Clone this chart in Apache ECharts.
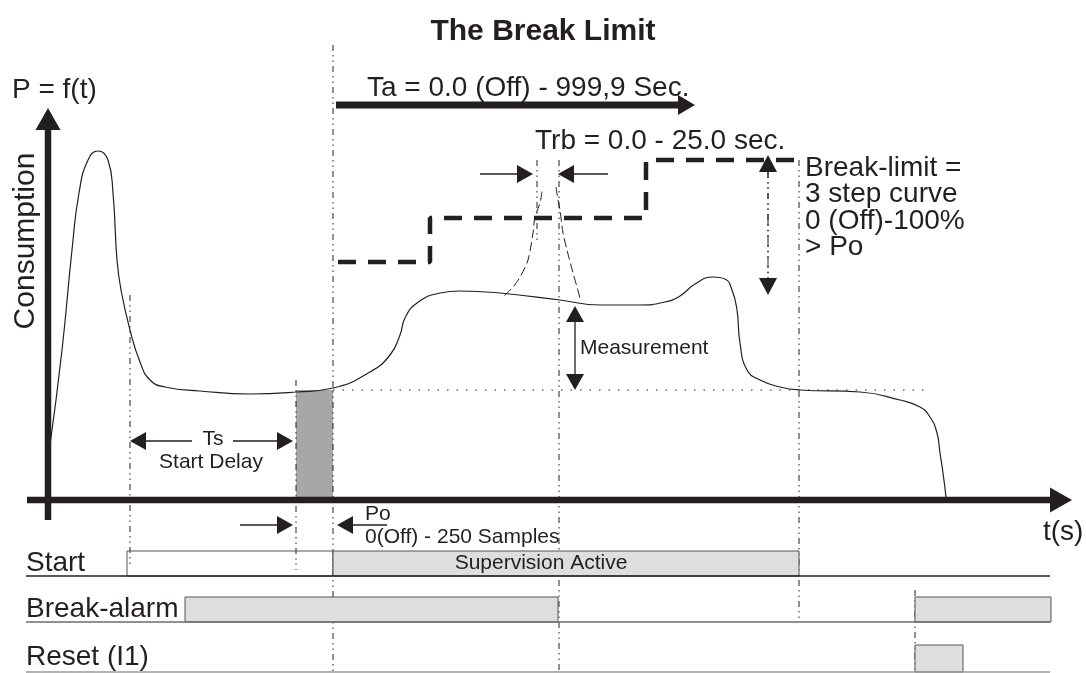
<!DOCTYPE html>
<html>
<head>
<meta charset="utf-8">
<title>The Break Limit</title>
<script src="https://cdn.jsdelivr.net/npm/echarts@6/dist/echarts.min.js"></script>
<style>
  html, body { margin: 0; padding: 0; background: #fff; }
  #chart { width: 1086px; height: 673px; }
</style>
</head>
<body>
<div id="chart"></div>
<script>
// consumption curve P = f(t)
const curveT = [0.2, 1.4, 2.4, 3.1, 4.0, 5.0, 6.0, 6.5, 6.9, 7.3, 8.2, 9.2, 10.2, 11.7, 15.2, 20.2, 24.9, 28.5,
  32.2, 34.2, 35.2, 35.7, 36.9, 39.2, 41.2, 45.2, 51.2, 55.2, 59.2, 61.7, 63.2, 64.7, 66.5, 67.7, 68.4, 68.9, 69.2, 69.9,
  71.2, 73.2, 75.2, 81.2, 85.2, 87.2, 88.2, 88.9, 89.2, 89.5, 89.8];
const curveP = [13.75, 37.5, 62.5, 76.75, 85, 87.25, 85, 76.75, 60, 52.5, 42.5, 34.5, 30, 28.25, 27.25, 26.5, 27, 28,
  32, 36.25, 41.25, 45.5, 49.25, 51.75, 52.25, 51.75, 50, 48.75, 48.75, 49.5, 51, 54, 55.75, 55.25, 52.5, 47.5, 39.25, 32.5,
  30, 28.25, 27.5, 27, 25, 23.25, 20.75, 16.75, 11.75, 6.75, 0.75];

// break-limit, 3 step curve
const limitT = [29, 38.2, 38.2, 59.8, 59.8, 75.2];
const limitP = [59.5, 59.5, 70.5, 70.5, 85, 85];

// Trb peak (thin dashed)
const spikeLeftT = [49.4, 49.2, 48.7, 48.5, 48.0, 47.2, 46.5, 45.5];
const spikeLeftP = [77.1, 74.25, 70.75, 66.75, 60, 55.75, 53.25, 50.75];
const spikeRightT = [50.8, 51.0, 51.2, 51.5, 51.9, 52.5, 52.9, 53.2];
const spikeRightP = [78.25, 75, 72.5, 66.75, 62.5, 56.75, 53.25, 50.5];

// guide lines [t1, P1, t2, P2]
const guidesV = [
  [8.2, 51.25, 8.2, -16.25],
  [24.8, 30, 24.8, -17.5],
  [28.5, 113.75, 28.5, -43.25],
  [48.9, 85, 48.9, 65],
  [51.1, 85, 51.1, -43.25],
  [75.1, 85, 75.1, -30],
  [86.7, -22.5, 86.7, -43.25],
  [72, 82, 72, 55.5]
];
const guidesH = [[28.5, 27.5, 88.2, 27.5]];

// Po sample window [t1, t2, P1, P2]
const poWindow = [[24.8, 28.5, 0, 27.5]];

// axes and Ta arrow [from t, from P, tip t, tip P]
const axisArrows = [[0, -5, 0, 98], [-2.1, 0, 102.4, 0]];
const taArrow = [[28.8, 98.75, 64.7, 98.75]];
// thin arrows
const thinArrows = [
  [43.2, 81.5, 48.5, 81.5], [56, 81.5, 51, 81.5],
  [14.4, 14.75, 8.2, 14.75], [18.5, 14.75, 24.5, 14.75],
  [19.2, -6.25, 24.5, -6.25], [33.9, -6.25, 28.9, -6.25],
  [52.7, 38, 52.7, 48.5], [52.7, 38, 52.7, 27.5]
];
const limitArrows = [[72, 70, 72, 86.25], [72, 70, 72, 51.25]];

// timing rows
const rowNames = ['Start', 'Break-alarm', 'Reset (I1)'];
const rowTop = [-12.75, -24.25, -36.25];
const rowBase = [-19, -30.5, -43];
const barFrom = [7.9, 28.5, 13.7, 86.7, 86.7];
const barTo = [28.5, 75.1, 51.0, 100.3, 91.5];
const barRow = [0, 0, 1, 1, 2];
const barOn = [0, 1, 1, 1, 1];

// texts
const bigTexts = ['P = f(t)', 't(s)', 'Ta = 0.0 (Off) - 999,9 Sec.', 'Trb = 0.0 - 25.0 sec.',
  'Break-limit =', '3 step curve', '0 (Off)-100%', '> Po'].concat(rowNames);
const bigTextAt = [[-3.6, 102.5], [99.5, -8], [31.9, 103], [48.7, 89.75],
  [75.7, 83], [75.7, 76.5], [75.7, 69.75], [75.7, 63.25],
  [-2.2, -15.75], [-2.2, -27.25], [-2.2, -39.25]];
const smallTexts = ['Measurement', 'Po', '0(Off) - 250 Samples'];
const smallTextAt = [[53.2, 38], [31.7, -3.5], [31.7, -9.25]];
const centerTexts = ['Ts', 'Start Delay', 'Supervision Active'];
const centerTextAt = [[16.5, 15.25], [16.3, 9.5], [49.3, -15.75]];

const INK = '#231f20';
const FONT = "'Liberation Sans', Arial, sans-serif";
const DOTS = [6, 4, 1.5, 4, 1.5, 4];

const pairs = (xs, ys) => xs.map((x, i) => [x, ys[i]]);

function segmentItem(style) {
  return function (params, api) {
    const a = api.coord([api.value(0), api.value(1)]);
    const b = api.coord([api.value(2), api.value(3)]);
    return { type: 'line', shape: { x1: a[0], y1: a[1], x2: b[0], y2: b[1] }, style: style };
  };
}

function arrowItem(style, headLen, headHalf) {
  return function (params, api) {
    const a = api.coord([api.value(0), api.value(1)]);
    const b = api.coord([api.value(2), api.value(3)]);
    const dx = b[0] - a[0], dy = b[1] - a[1];
    const len = Math.hypot(dx, dy);
    const ux = dx / len, uy = dy / len;
    const bx = b[0] - ux * headLen, by = b[1] - uy * headLen;
    return {
      type: 'group',
      children: [
        { type: 'line', shape: { x1: a[0], y1: a[1], x2: bx + ux, y2: by + uy }, style: style },
        {
          type: 'polygon',
          shape: { points: [[b[0], b[1]], [bx - uy * headHalf, by + ux * headHalf], [bx + uy * headHalf, by - ux * headHalf]] },
          style: { fill: INK }
        }
      ]
    };
  };
}

function textItem(labels, size, align, rotation) {
  return function (params, api) {
    const p = api.coord([api.value(0), api.value(1)]);
    return {
      type: 'text', x: p[0], y: p[1], rotation: rotation || 0,
      style: { text: labels[params.dataIndex], fontSize: size, fontFamily: FONT, fill: INK, align: align, verticalAlign: 'middle' }
    };
  };
}

const custom = (data, renderItem) => ({
  type: 'custom', coordinateSystem: 'cartesian2d', clip: false, silent: true, data: data, renderItem: renderItem
});

const chart = echarts.init(document.getElementById('chart'));

const option = {
  backgroundColor: '#fff',
  animation: false,
  title: {
    text: 'The Break Limit', left: 'center', top: 12,
    textStyle: { fontSize: 30, fontWeight: 'bold', fontFamily: FONT, color: INK }
  },
  grid: { left: 0, right: 0, top: 0, bottom: 0 },
  xAxis: { type: 'value', min: -4.8, max: 103.8, show: false },
  yAxis: { type: 'value', min: -43.25, max: 125, show: false },
  series: [
    // Po window
    custom(poWindow, function (params, api) {
      const a = api.coord([api.value(0), api.value(3)]);
      const b = api.coord([api.value(1), api.value(2)]);
      return { type: 'rect', shape: { x: a[0], y: a[1], width: b[0] - a[0], height: b[1] - a[1] }, style: { fill: '#a7a7a7' } };
    }),
    custom(guidesV, segmentItem({ stroke: INK, lineWidth: 1, lineDash: DOTS })),
    custom(guidesH, segmentItem({ stroke: INK, lineWidth: 1, lineDash: [1.5, 8] })),
    // timing bars
    custom(barFrom.map((t, i) => [t, barTo[i], barRow[i], barOn[i]]), function (params, api) {
      const row = api.value(2);
      const a = api.coord([api.value(0), rowTop[row]]);
      const b = api.coord([api.value(1), rowBase[row]]);
      return {
        type: 'rect', shape: { x: a[0], y: a[1], width: b[0] - a[0], height: b[1] - a[1] },
        style: { fill: api.value(3) ? '#dedede' : 'rgba(255,255,255,0)', stroke: '#555', lineWidth: 1 }
      };
    }),
    // row base lines
    custom(rowBase.map((p, i) => [-2.2, p, 100.2, p, i]), function (params, api) {
      const a = api.coord([api.value(0), api.value(1)]);
      const b = api.coord([api.value(2), api.value(3)]);
      const col = ['#231f20', '#6d6d6d', '#9a9a9a'][params.dataIndex];
      return { type: 'line', shape: { x1: a[0], y1: a[1], x2: b[0], y2: b[1] }, style: { stroke: col, lineWidth: 1.5 } };
    }),
    {
      type: 'line', data: pairs(curveT, curveP), smooth: 0.5, showSymbol: false,
      symbol: 'none', clip: false, silent: true, lineStyle: { color: INK, width: 1.2 }
    },
    {
      type: 'line', data: pairs(limitT, limitP), showSymbol: false, symbol: 'none', clip: false, silent: true,
      lineStyle: { color: INK, width: 4.5, type: [18, 12] }
    },
    {
      type: 'line', data: pairs(spikeLeftT, spikeLeftP), smooth: 0.3, symbol: 'none', clip: false, silent: true,
      lineStyle: { color: INK, width: 1, type: [9, 4] }
    },
    {
      type: 'line', data: pairs(spikeRightT, spikeRightP), smooth: 0.3, symbol: 'none', clip: false, silent: true,
      lineStyle: { color: INK, width: 1, type: [9, 4] }
    },
    custom(axisArrows, arrowItem({ stroke: INK, lineWidth: 6.5 }, 22, 12.5)),
    custom(taArrow, arrowItem({ stroke: INK, lineWidth: 7 }, 17, 10)),
    custom(thinArrows, arrowItem({ stroke: INK, lineWidth: 1.3 }, 16, 9)),
    custom(limitArrows, arrowItem({ stroke: INK, lineWidth: 1, lineDash: DOTS }, 17, 9)),
    custom(bigTextAt, textItem(bigTexts, 28, 'left')),
    custom(smallTextAt, textItem(smallTexts, 21, 'left')),
    custom(centerTextAt, textItem(centerTexts, 21, 'center')),
    custom([[-2.2, 64.75]], textItem(['Consumption'], 30, 'center', Math.PI / 2))
  ]
};

chart.setOption(option);
window.addEventListener('resize', function () {
  chart && chart.resize();
});
</script>
</body>
</html>
